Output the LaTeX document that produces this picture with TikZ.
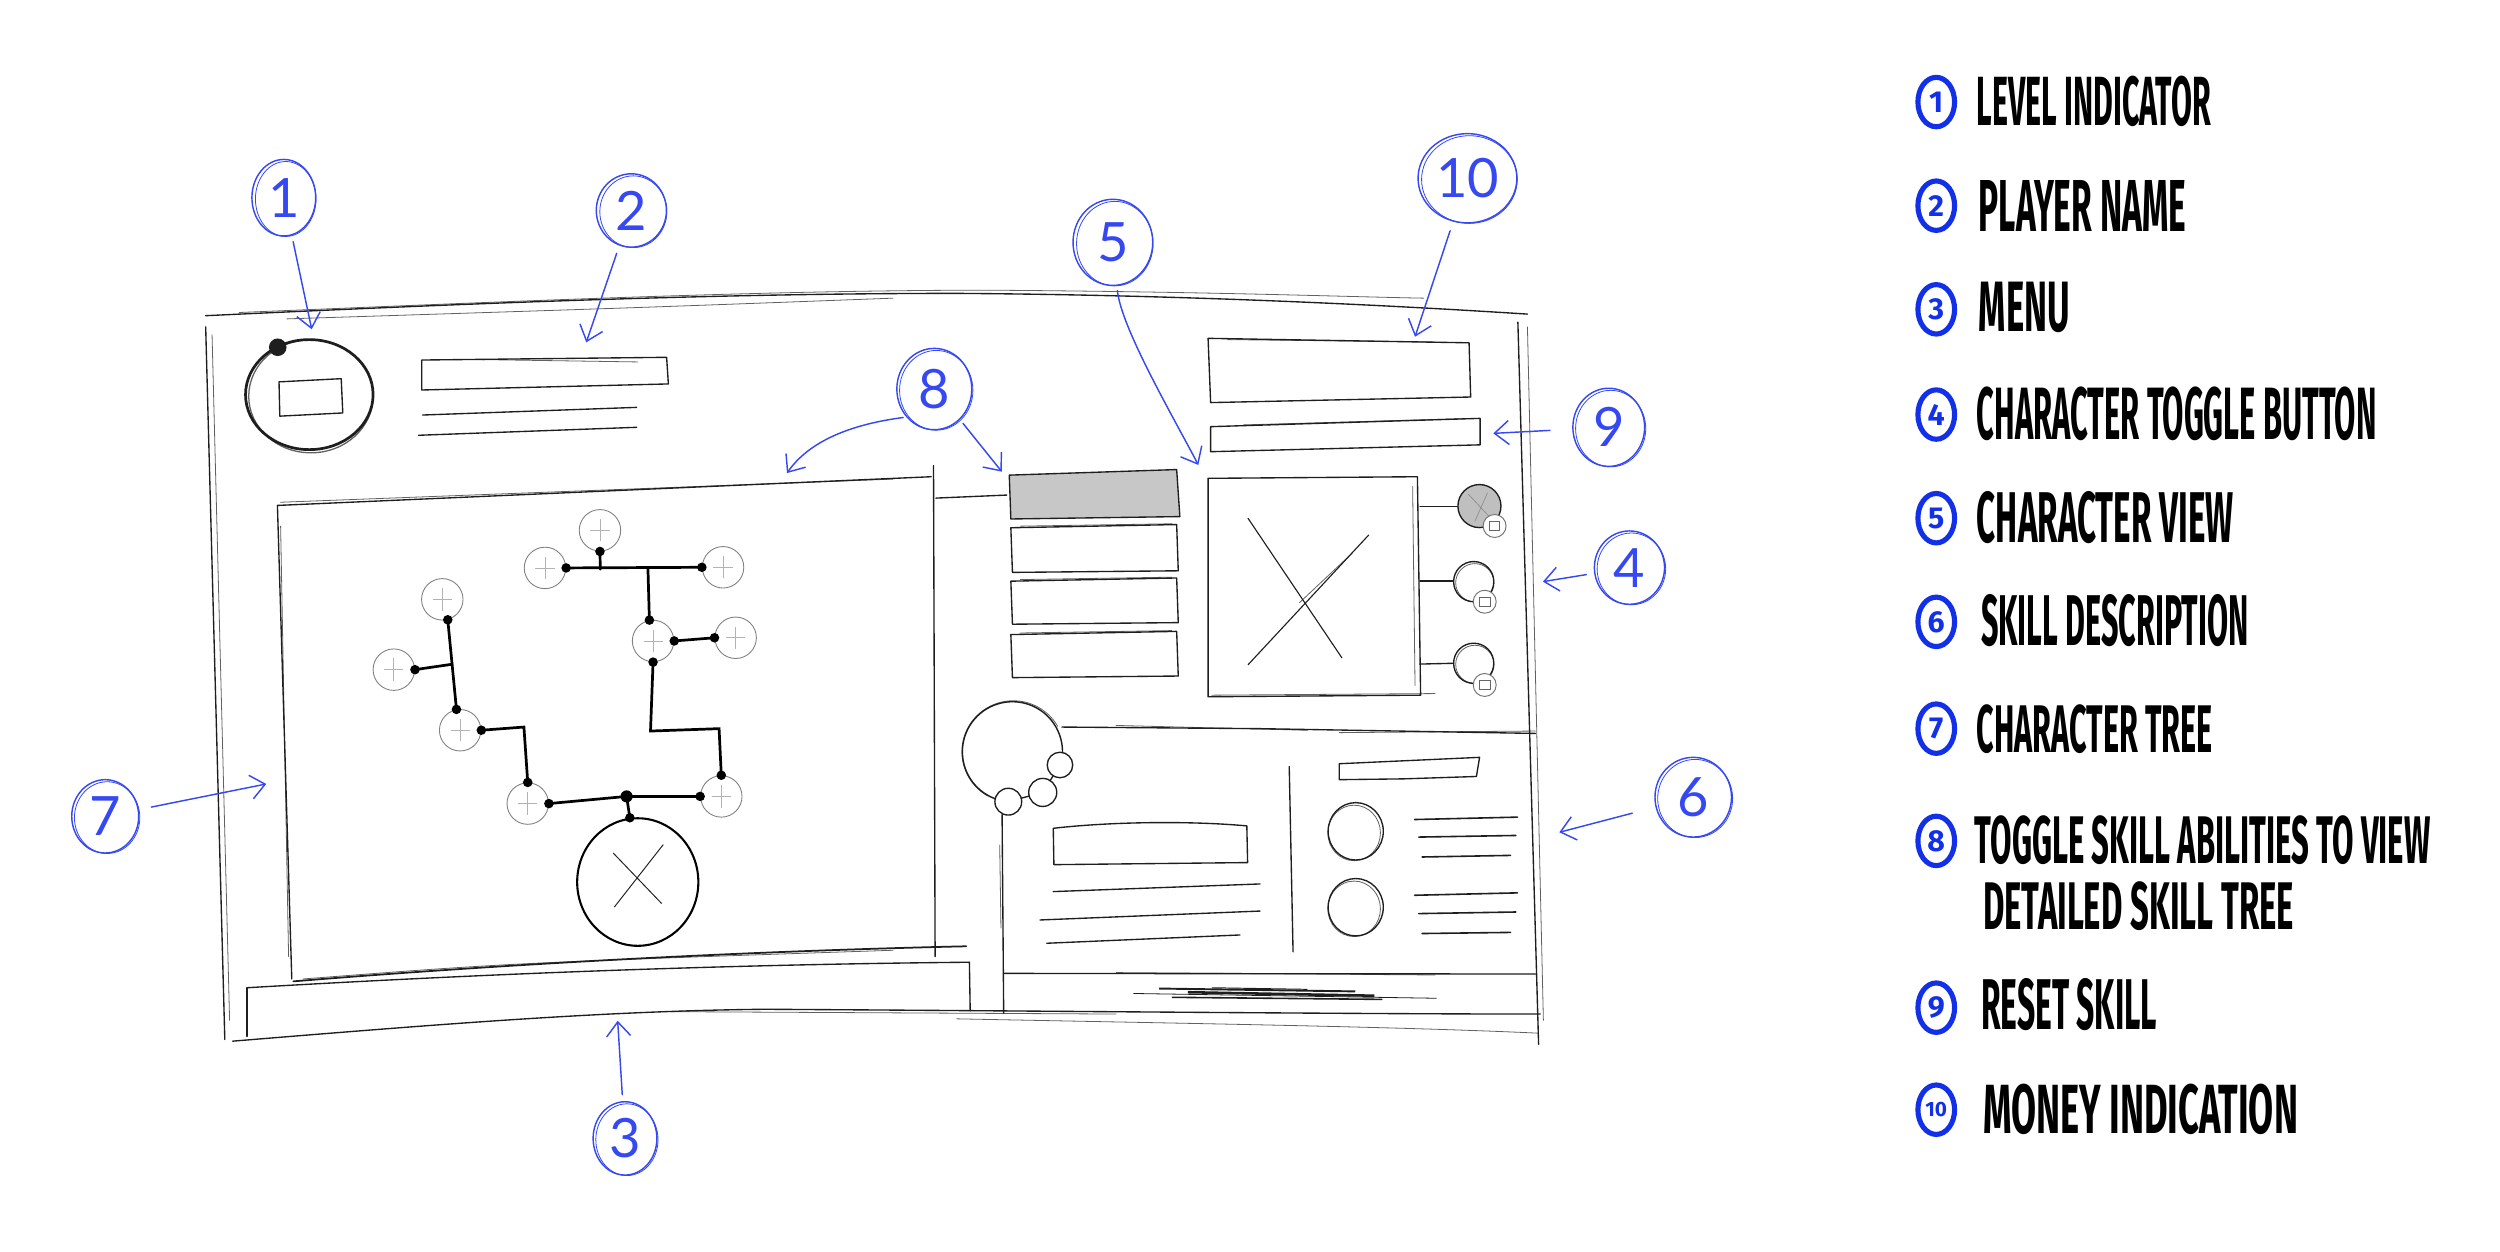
\documentclass[tikz,border=0pt]{standalone}
\usepackage{fontspec}
\usepackage{graphicx}
\usetikzlibrary{arrows.meta,shapes.geometric,calc}
\newfontfamily\legfont{Fira Sans}
\newfontfamily\annfont{Lato}
\definecolor{annblue}{HTML}{3548F2}
\definecolor{legblue}{HTML}{1230E8}
\definecolor{ink}{HTML}{1E1E1E}
\newcommand\legtxt[3]{\resizebox{#1pt}{#2pt}{\legfont\bfseries #3}}
\begin{document}
\begin{tikzpicture}[x=1pt,y=-1pt,
  sk/.style={draw=ink,line width=0.85pt,line cap=round,line join=round},
  skt/.style={draw=ink,line width=0.5pt,line cap=round,opacity=0.7},
  ann/.style={draw=annblue,line width=0.9pt,line cap=round,line join=round,-{Straight Barb[length=9pt,width=15pt,line width=0.9pt]}},
  annl/.style={draw=annblue,line width=0.5pt},
  anncirc/.style={ellipse,draw=annblue,line width=0.9pt,inner sep=0pt,text=annblue,font=\annfont\fontsize{34}{34}\selectfont},
  tnode/.style={circle,draw=black!50,line width=0.55pt,minimum size=26pt,inner sep=0pt,fill=white,
    path picture={\draw[black!30,line width=0.45pt] ([xshift=-6pt]path picture bounding box.center) -- ([xshift=6pt]path picture bounding box.center) ([yshift=-7pt]path picture bounding box.center) -- ([yshift=7pt]path picture bounding box.center);}},
  tline/.style={draw=black,line width=1.7pt,line cap=round},
  legc/.style={ellipse,draw=legblue,line width=3.2pt,minimum width=23pt,minimum height=31pt,inner sep=0pt,text=legblue,font=\legfont\bfseries\fontsize{19}{19}\selectfont},
  legt/.style={anchor=south west,inner sep=0pt}
]
\useasboundingbox (0,0) rectangle (1568,785);
\fill[white] (0,0) rectangle (1568,785);

% ---------------- main frame ----------------
\draw[sk] (129,198) .. controls (300,190) and (450,184) .. (600,184) .. controls (750,185) and (880,192) .. (958,197);
\draw[skt] (150,196) .. controls (320,189) and (480,182) .. (620,182) .. controls (760,183) and (840,186) .. (893,187);
\draw[skt] (180,200) .. controls (400,193) .. (560,187);
\draw[sk] (129,205) -- (141,652);
\draw[skt] (133,210) -- (144,640);
\draw[sk] (952,202) -- (965,655);
\draw[skt] (958,205) -- (968,640);
\draw[sk] (146,653) .. controls (280,642) and (380,634) .. (480,633) .. controls (650,634) and (850,636) .. (966,636);
\draw[skt] (600,639) .. controls (750,642) and (880,644) .. (965,648);
\draw[skt] (420,634.5) -- (700,636);

% ---------------- level indicator & player name ----------------
\draw[sk,line width=1.7pt] (194,247.5) ellipse [x radius=40,y radius=34.5];
\draw[skt,line width=0.8pt] (195,248.5) ellipse [x radius=39,y radius=35.5];
\fill[ink] (174.2,217.8) circle (5.5);
\draw[sk] (175,239.5) -- (214,237.5) -- (215,259) -- (175.5,261) -- cycle;
\draw[sk] (264.5,225.8) -- (418.1,224.1) -- (419.2,240.8) -- (264.5,244.6) -- cycle;
\draw[skt] (300,225.5) -- (400,227);
\draw[sk] (265,260.3) -- (399.3,255.5);
\draw[sk] (262.5,273) -- (399.3,268);

% ---------------- tree panel ----------------
\draw[sk] (174,317) -- (584,299);
\draw[skt] (176,315) -- (560,300.5);
\draw[sk] (174,317) -- (183,614);
\draw[skt] (176,330) -- (181,600);
\draw[sk] (585.5,292) -- (586.5,600);
\draw[sk,line width=1.1pt] (184,615.5) .. controls (300,606) and (450,597) .. (606,593.5);
\draw[skt] (190,614) .. controls (320,604) .. (560,596);
% menu
\draw[sk] (155,619.5) .. controls (300,611) and (450,605) .. (608,603.5);
\draw[sk] (155,619.5) -- (155,650);
\draw[sk] (608,603.5) -- (608.5,634);
% short line
\draw[sk] (587,312.4) -- (631.4,310.5);

% ---------------- tree ----------------
\node[tnode] (tA) at (376.3,332.6) {};
\node[tnode] (tB) at (341.8,356.2) {};
\node[tnode] (tC) at (453.5,355.8) {};
\node[tnode] (tD) at (409.6,402) {};
\node[tnode] (tE) at (461.4,400) {};
\node[tnode] (tF) at (277.4,375.9) {};
\node[tnode] (tG) at (247,420) {};
\node[tnode] (tH) at (288.6,458) {};
\node[tnode] (tI) at (331,504) {};
\node[tnode] (tJ) at (452.4,499.5) {};
\node[ellipse,draw=black,line width=1.3pt,minimum width=76pt,minimum height=80pt,inner sep=0pt] (root) at (400,553.2) {};
\draw[ink,line width=0.6pt] (384.6,535) -- (415,566.7) (416,529.7) -- (385.3,568.9);
\coordinate (jn) at (393,499.5);
\draw[tline] (tA.south) -- (376.5,357);
\draw[tline] (tB.east) -- (tC.west);
\draw[tline] (406.4,357) -- (tD.100);
\draw[tline] (tD.east) -- (tE.west);
\draw[tline] (tD.south) -- (408,458.5) -- (451,457) -- (tJ.north);
\draw[tline] (tF.-75) -- (tH.100);
\draw[tline] (tG.east) -- (283.6,416.6);
\draw[tline] (tH.east) -- (328.6,456) -- (tI.north);
\draw[tline] (tI.east) -- (jn) -- (tJ.west);
\draw[tline] (jn) -- (root.97);
\foreach \p in {tA.south,tB.east,tC.west,tD.100,tD.east,tE.west,tD.south,tJ.north,tJ.west,tF.-75,tG.east,tH.100,tH.east,tI.north,tI.east,root.97}
  \fill[black] (\p) circle (3);
\fill[black] (jn) circle (3.8);

% ---------------- skill tabs ----------------
\draw[sk,fill=black!22] (633,298) -- (738,294.5) -- (740,324) -- (634,325.5) -- cycle;
\draw[sk] (634,331) -- (738,329) -- (739,358) -- (635,359) -- cycle;
\draw[skt] (640,330) -- (735,328.5);
\draw[sk] (634,364.5) -- (738,362.5) -- (739,390.5) -- (635,391.5) -- cycle;
\draw[skt] (640,363.5) -- (735,362);
\draw[sk] (634,398) -- (738,396) -- (739,424) -- (635,425) -- cycle;
\draw[skt] (640,397) -- (735,395.5);

% ---------------- money / reset ----------------
\draw[sk] (757.7,212.2) -- (921.4,215) -- (922.4,249) -- (759.3,252.5) -- cycle;
\draw[skt] (770,213) -- (900,214.5);
\draw[sk] (759.3,267.6) -- (928.3,262.4) -- (928.3,279) -- (759.3,283.3) -- cycle;
\draw[skt] (780,266.5) -- (920,262.5);

% ---------------- character view ----------------
\draw[sk] (757.7,300) -- (889,299) -- (891,436) -- (757.7,437) -- cycle;
\draw[skt] (886,305) -- (887.5,430);
\draw[skt] (760,436) -- (900,435);
\draw[ink,line width=0.7pt] (782.7,325) -- (841.7,412.7);
\draw[ink,line width=0.7pt] (858.5,335.5) -- (782.7,417);
\draw[skt] (848,347) -- (815,378);

% toggles
\draw[sk] (890.6,317.8) -- (914.4,317.8);
\draw[sk,fill=black!25] (927.9,317.4) circle (13.5);
\draw[black!45,line width=0.4pt] (921,310) -- (934,324) (933,309) -- (925,327);
\draw[black!55,fill=white,line width=0.6pt] (937.4,329.9) circle (7.2);
\draw[black!60,line width=0.5pt] (934,327.3) rectangle (940.6,332.6);
\draw[sk] (890.6,364.5) -- (911.7,364.5);
\draw[sk] (924.3,364.8) circle (12.6);
\draw[skt] (925,365.5) circle (12);
\draw[black!55,fill=white,line width=0.6pt] (931.2,377.4) circle (7.2);
\draw[black!60,line width=0.5pt] (927.9,374.8) rectangle (934.5,380.1);
\draw[sk] (890.6,416.5) -- (911.7,416);
\draw[sk] (924.3,416) circle (12.6);
\draw[skt] (925,416.7) circle (12);
\draw[black!55,fill=white,line width=0.6pt] (931.2,429.6) circle (7.2);
\draw[black!60,line width=0.5pt] (927.9,427) rectangle (934.5,432.3);

% ---------------- skill description ----------------
\draw[sk,line width=0.9pt] plot[domain=102:372,samples=60,smooth] ({635+31.4*cos(\x)},{471.5+31.4*sin(\x)});
\draw[skt] plot[domain=120:330,samples=40,smooth] ({635.5+32.2*cos(\x)},{471.5+32*sin(\x)});
\draw[sk,fill=white] (664.8,479.8) circle (8);
\draw[sk,fill=white] (654,497) circle (8.8);
\draw[sk,fill=white] (632.4,502.8) circle (8.4);
\draw[sk] (640.5,500.6) -- (645.5,499.3);
\draw[sk] (658.7,489.5) -- (660.5,486.6);
\draw[sk] (628.5,511) -- (629.5,635.5);
\draw[skt] (627,530) -- (627.8,582);
\draw[sk] (666,456) -- (790,457) -- (963,460);
\draw[skt] (700,455) -- (820,458);
\draw[skt] (840,459.5) -- (963,458.5);
\draw[sk] (630,610.5) -- (963,610.9);
\draw[skt] (700,610) -- (900,611.5);
\draw[sk] (660.6,519.5) .. controls (700,515) and (750,515) .. (782,518) -- (782.5,541) -- (661,542.3) -- cycle;
\draw[sk] (660.6,559.2) -- (790.3,554.4);
\draw[sk] (652.3,577) -- (790.3,571.4);
\draw[sk] (656.5,591.6) -- (777.7,586.4);
\draw[sk] (808.6,480.8) -- (811,597);
\draw[sk] (840,479) -- (928,475) -- (926,487) -- (880,488.5) -- (840,489) -- cycle;
\draw[sk] (850.3,521.4) ellipse [x radius=17.3,y radius=18];
\draw[skt] (849.3,522.4) ellipse [x radius=16.5,y radius=17.4];
\draw[sk] (850.3,569) ellipse [x radius=17.3,y radius=18];
\draw[skt] (849.3,570) ellipse [x radius=16.5,y radius=17.4];
\draw[sk,line width=1pt] (887.2,514) -- (951.7,512.5);
\draw[sk,line width=1pt] (889.9,525) -- (950.7,524);
\draw[sk,line width=1pt] (891.9,537.5) -- (947.4,536.5);
\draw[sk,line width=1pt] (887.2,561.5) -- (951.7,560);
\draw[sk,line width=1pt] (889.9,573) -- (950.7,572);
\draw[sk,line width=1pt] (891.9,585.5) -- (947.4,584.8);
% scribble
\draw[ink,line width=0.5pt] (710.8,623.1) -- (901,626.1);
\draw[ink,line width=1.2pt] (727,620) -- (850,621.8);
\draw[ink,line width=1.6pt] (745,622.3) -- (862,624.5);
\draw[ink,line width=1.0pt] (735,625.5) -- (867,626.8);
\draw[ink,line width=0.6pt] (760,619.5) -- (820,620.5);

% ---------------- annotations ----------------
\node[anncirc,minimum width=40pt,minimum height=48pt] (c1) at (178,124) {1};
\node[anncirc,minimum width=44pt,minimum height=46pt] (c2) at (396,132) {2};
\node[anncirc,minimum width=40pt,minimum height=46pt] (c3) at (392,714) {3};
\node[anncirc,minimum width=44pt,minimum height=46pt] (c4) at (1022,356) {4};
\node[anncirc,minimum width=50pt,minimum height=54pt] (c5) at (698,152) {5};
\node[anncirc,minimum width=48pt,minimum height=50pt] (c6) at (1062,500) {6};
\node[anncirc,minimum width=42pt,minimum height=46pt] (c7) at (66,512) {7};
\node[anncirc,minimum width=47pt,minimum height=51pt] (c8) at (586,244) {8};
\node[anncirc,minimum width=45pt,minimum height=49pt] (c9) at (1009,268) {9};
\node[anncirc,minimum width=62pt,minimum height=56pt] (c10) at (920.4,111.8) {10};
\foreach \c/\rx/\ry in {c1/19/23.5,c2/21/22.5,c3/19.5/22.5,c4/21.5/22.5,c5/24/26.5,c6/23.5/24.5,c7/20.5/22.5,c8/23/25,c9/22/24,c10/30/27.5}
  \draw[annl] ($(\c.center)+(1.2,0.8)$) ellipse [x radius=\rx,y radius=\ry];
\coordinate (t1) at (195.5,206.5);
\coordinate (t2) at (367.7,214.7);
\coordinate (t3) at (387.4,640.2);
\coordinate (t4) at (967.7,364.8);
\coordinate (t5) at (751.6,291.6);
\coordinate (t6) at (978,522);
\coordinate (t7) at (167,491.7);
\coordinate (t8a) at (493.6,296.7);
\coordinate (t8b) at (628.3,295.8);
\coordinate (t9) at (936.6,271.8);
\coordinate (t10) at (887.5,211.2);
\draw[ann,shorten <=4pt] (c1) -- (t1);
\draw[ann,shorten <=5pt] (c2) -- (t2);
\draw[ann,shorten <=4pt] (c3) -- (t3);
\draw[ann,shorten <=5pt] (c4) -- (t4);
\draw[ann,shorten <=3pt] (c5) .. controls (703,205) and (735,260) .. (t5);
\draw[ann,shorten <=15pt] (c6) -- (t6);
\draw[ann,shorten <=8pt] (c7) -- (t7);
\draw[ann,shorten <=2pt] (c8.225) .. controls (535,266) and (508,276) .. (t8a);
\draw[ann,shorten <=3pt] (c8.-50) -- (t8b);
\draw[ann,shorten <=14pt] (c9) -- (t9);
\draw[ann,shorten <=6pt] (c10) -- (t10);

% ---------------- legend ----------------
\node[legc] (l1) at (1214.4,64) {1};
\node[legt] (lt1) at (1239.7,79.7) {\legtxt{146.8}{31}{LEVEL INDICATOR}};
\node[legc] (l2) at (1214.4,129) {2};
\node[legt] (lt2) at (1240.9,145.6) {\legtxt{130}{32}{PLAYER NAME}};
\node[legc] (l3) at (1214.4,194) {3};
\node[legt] (lt3) at (1240.9,209) {\legtxt{57}{31}{MENU}};
\node[legc] (l4) at (1214.4,260) {4};
\node[legt] (lt4) at (1239.7,276.4) {\legtxt{250.6}{33}{CHARACTER TOGGLE BUTTON}};
\node[legc] (l5) at (1214.4,325) {5};
\node[legt] (lt5) at (1239.7,341.3) {\legtxt{161}{32}{CHARACTER VIEW}};
\node[legc] (l6) at (1214.4,390) {6};
\node[legt] (lt6) at (1242.3,406) {\legtxt{167.7}{32}{SKILL DESCRIPTION}};
\node[legc] (l7) at (1214.4,457) {7};
\node[legt] (lt7) at (1239.7,472.6) {\legtxt{148}{30}{CHARACTER TREE}};
\node[legc] (l8) at (1214.4,527.4) {8};
\node[legt] (lt8a) at (1238.4,542.5) {\legtxt{285.8}{30}{TOGGLE SKILL ABILITIES TO VIEW}};
\node[legt] (lt8b) at (1243.6,583.9) {\legtxt{195}{30}{DETAILED SKILL TREE}};
\node[legc] (l9) at (1214.4,632) {9};
\node[legt] (lt9) at (1242.3,646.6) {\legtxt{110.4}{32}{RESET SKILL}};
\node[legc,font=\legfont\bfseries\fontsize{13}{13}\selectfont] (l10) at (1214.4,696) {10};
\node[legt] (lt10) at (1243.6,711.6) {\legtxt{197.5}{31}{MONEY INDICATION}};
\end{tikzpicture}
\end{document}
